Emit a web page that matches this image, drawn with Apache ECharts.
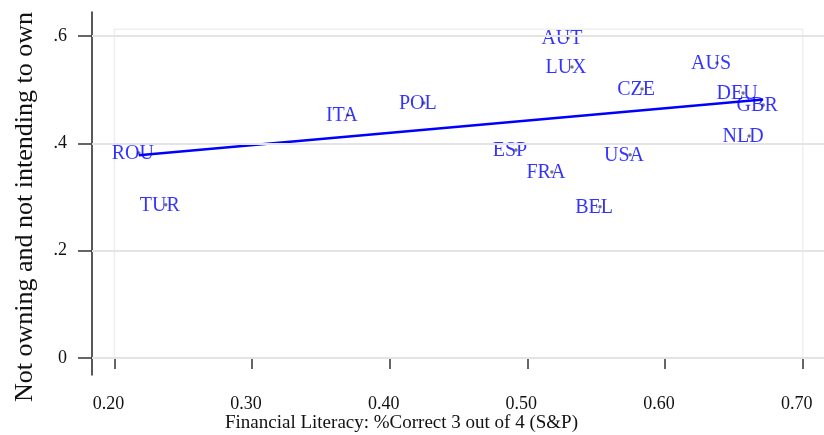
<!DOCTYPE html>
<html>
<head>
<meta charset="utf-8">
<title>Financial literacy and ownership</title>
<script src="https://cdn.jsdelivr.net/npm/echarts@6/dist/echarts.min.js"></script>
<style>
  html, body { margin: 0; padding: 0; background: #ffffff; }
  #chart { width: 824px; height: 435px; }
</style>
</head>
<body>
<div id="chart"></div>
<script>
// Country codes with financial literacy share (x) and share not owning / not intending to own (y)
const countries = ['ROU', 'TUR', 'ITA', 'POL', 'ESP', 'FRA', 'AUT', 'LUX', 'BEL', 'USA', 'CZE', 'AUS', 'DEU', 'NLD', 'GBR'];
const literacy  = [0.2177, 0.2373, 0.3695, 0.4248, 0.4917, 0.5178, 0.5295, 0.5324, 0.5528, 0.5746, 0.5833, 0.6378, 0.6567, 0.6611, 0.6713];
const notOwning = [0.3823, 0.2855, 0.4531, 0.4754, 0.3879, 0.3469, 0.5965, 0.5424, 0.2818, 0.3787, 0.5016, 0.5501, 0.4941, 0.4140, 0.4717];

// Fitted line end points
const fitX = [0.2177, 0.6713];
const fitY = [0.378, 0.482];

// Axis ticks and labels
const xTicks = [0.2, 0.3, 0.4, 0.5, 0.6, 0.7];
const xTickLabels = ['0.20', '0.30', '0.40', '0.50', '0.60', '0.70'];
const yTicks = [0, 0.2, 0.4, 0.6];
const yTickLabels = ['0', '.2', '.4', '.6'];

// Inner plot region outline
const regionX = [0.2, 0.7];
const regionY = [0, 0.613];

const xTitle = 'Financial Literacy: %Correct 3 out of 4 (S&P)';
const yTitle = 'Not owning and not intending to own';

const FONT = 'Liberation Serif';

const points = countries.map((c, i) => [literacy[i], notOwning[i], c]);
const fitData = fitX.map((x, i) => [x, fitY[i]]);

const chart = echarts.init(document.getElementById('chart'), null, { renderer: 'canvas' });

const tickLabelStyle = { fontFamily: FONT, fontSize: 18, color: '#111' };

chart.setOption({
  animation: false,
  backgroundColor: '#ffffff',
  textStyle: { fontFamily: FONT },
  grid: { left: 92, right: 0, top: 12, bottom: 60, containLabel: false },
  title: {
    text: xTitle,
    left: 225,
    top: 414,
    padding: 0,
    textStyle: { fontFamily: FONT, fontSize: 19, fontWeight: 'normal', color: '#111' }
  },
  graphic: [{
    type: 'text',
    x: 25,
    y: 207,
    rotation: Math.PI / 2,
    style: {
      text: yTitle,
      fontFamily: FONT,
      fontSize: 26,
      fill: '#111',
      align: 'center',
      verticalAlign: 'middle'
    }
  }],
  xAxis: {
    type: 'value',
    min: 0.1837,
    max: 0.7155,
    axisLine: { show: true, lineStyle: { color: '#444', width: 2 } },
    axisTick: { show: true, length: 11, customValues: xTicks, lineStyle: { color: '#333', width: 1.5 } },
    axisLabel: Object.assign({
      customValues: xTicks,
      margin: 20,
      padding: [0, 12, 0, 0],
      formatter: v => xTickLabels[xTicks.findIndex(t => Math.abs(t - v) < 1e-9)] || ''
    }, tickLabelStyle),
    splitLine: { show: false }
  },
  yAxis: {
    type: 'value',
    min: -0.0317,
    max: 0.645,
    axisLine: { show: true, lineStyle: { color: '#222', width: 1.5 } },
    axisTick: { show: true, length: 14, customValues: yTicks, lineStyle: { color: '#333', width: 1.5 } },
    axisLabel: Object.assign({
      customValues: yTicks,
      margin: 25,
      formatter: v => yTickLabels[yTicks.findIndex(t => Math.abs(t - v) < 1e-9)] || ''
    }, tickLabelStyle),
    splitLine: { show: false }
  },
  series: [
    {
      // gridlines and inner region outline
      type: 'line',
      data: [],
      z: 0,
      silent: true,
      markLine: {
        silent: true,
        symbol: 'none',
        label: { show: false },
        lineStyle: { color: '#e4e4e4', width: 2, type: 'solid' },
        data: yTicks.map(v => ({ yAxis: v }))
      },
      markArea: {
        silent: true,
        itemStyle: { color: 'rgba(0,0,0,0)', borderColor: '#efefef', borderWidth: 1.5 },
        data: [[{ coord: [regionX[0], regionY[0]] }, { coord: [regionX[1], regionY[1]] }]]
      }
    },
    {
      type: 'scatter',
      data: points,
      symbol: 'circle',
      symbolSize: 3.5,
      z: 3,
      itemStyle: { color: '#555' },
      label: {
        show: true,
        position: 'inside',
        offset: [-6, 1],
        formatter: p => p.data[2],
        fontFamily: FONT,
        fontSize: 20,
        color: '#0000ff'
      }
    },
    {
      type: 'line',
      data: fitData,
      showSymbol: false,
      symbol: 'none',
      z: 4,
      lineStyle: { color: '#0000ff', width: 2.5 }
    }
  ]
});
</script>
</body>
</html>
